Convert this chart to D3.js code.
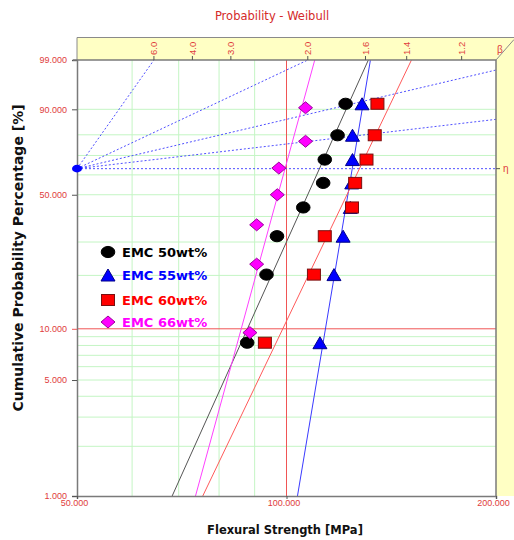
<!DOCTYPE html>
<html>
<head>
<meta charset="utf-8">
<script src="https://cdn.jsdelivr.net/npm/d3@7"></script>
<style>
	body { margin: 0; background: #fff; }
	svg { display: block; }
	text { font-family: 'Liberation Sans', Arial, sans-serif; }
</style>
</head>
<body>
<script>
// data
var categories = ['EMC 50wt%', 'EMC 55wt%', 'EMC 60wt%', 'EMC 66wt%'];
var prob8 = [8.3, 20.2, 32.1, 44.0, 55.9, 67.9, 79.8, 91.7];
var prob7 = [9.5, 23.0, 36.5, 50.0, 63.5, 77.0, 90.5];
var emc50 = [87.8, 93.6, 96.9, 105.7, 112.9, 113.5, 118.4, 121.6];
var emc55 = [111.7, 117.0, 120.6, 123.5, 124.1, 124.4, 124.4, 128.4];
var emc60 = [93.1, 109.5, 113.5, 124.2, 125.5, 130.3, 133.9, 135.1];
var emc66 = [88.6, 90.6, 90.6, 97.0, 97.5, 106.5, 106.5];
// fitted lines: strength at 1% and at 99%
var fitLow = [68.5, 103.7, 75.8, 74.0];
var fitHigh = [131.1, 132.0, 151.2, 109.8];
var probTicks = [1, 5, 10, 50, 90, 99];
var probGrid = [2, 3, 4, 5, 6, 7, 8, 9, 20, 30, 40, 50, 60, 70, 80, 90];
var strengthTicks = [50, 100, 200];
var strengthGrid = [60, 70, 80, 90];
var betaTicks = [6.0, 4.0, 3.0, 2.0, 1.6, 1.4, 1.2];
var betaGuides = [6, 2, 1, 0.5, 0];

var series = [
	{ name: categories[0], x: emc50, p: prob8, shape: 'circle', fill: '#000000', stroke: '#000000', line: '#555555', text: '#000000' },
	{ name: categories[1], x: emc55, p: prob8, shape: 'triangle', fill: '#0000ff', stroke: '#00008a', line: '#3a3aff', text: '#0000ff' },
	{ name: categories[2], x: emc60, p: prob8, shape: 'square', fill: '#ff0000', stroke: '#7a1010', line: '#ff5a5a', text: '#ff0000' },
	{ name: categories[3], x: emc66, p: prob7, shape: 'diamond', fill: '#ff00ff', stroke: '#9a009a', line: '#ff40ff', text: '#ff00ff' }
];

// chart
var margin = { top: 60, right: 18, bottom: 44, left: 77 };
var width = 514 - margin.left - margin.right;
var height = 540 - margin.top - margin.bottom;

var svg = d3.select('body')
	.append('svg')
	.attr('width', 514)
	.attr('height', 540);

var g = svg.append('g')
	.attr('transform', 'translate(' + margin.left + ',' + margin.top + ')');

var weib = function (p) { return Math.log(-Math.log(1 - p / 100)); };

var x = d3.scaleLog().domain([50, 200]).range([0, width]);
var yw = d3.scaleLinear().domain([weib(1), weib(99)]).range([height, 0]);
var y = function (p) { return yw(weib(p)); };

svg.append('defs')
	.append('clipPath')
	.attr('id', 'clip')
	.append('rect')
	.attr('width', width)
	.attr('height', height);

// yellow bands (beta on top, eta on the right)
var band = 22.5;
g.append('rect')
	.attr('x', 0).attr('y', -band)
	.attr('width', width + margin.right + 2).attr('height', band)
	.attr('fill', '#ffffc4');
g.append('rect')
	.attr('x', width).attr('y', -band)
	.attr('width', margin.right + 2).attr('height', height + band)
	.attr('fill', '#ffffc4');
g.append('path')
	.attr('d', 'M0,0 V' + (-band) + ' H' + (width + margin.right + 2))
	.attr('fill', 'none')
	.attr('stroke', '#8a8a8a');
g.append('line')
	.attr('x1', width).attr('y1', 0)
	.attr('x2', width + margin.right).attr('y2', -band + 2)
	.attr('stroke', '#8a8a8a');

// grid
g.selectAll('.hgrid')
	.data(probGrid)
	.enter()
	.append('line')
	.attr('class', 'hgrid')
	.attr('x1', 0).attr('x2', width)
	.attr('y1', function (d) { return y(d); })
	.attr('y2', function (d) { return y(d); })
	.attr('stroke', '#c4f5c4');
g.selectAll('.vgrid')
	.data(strengthGrid)
	.enter()
	.append('line')
	.attr('class', 'vgrid')
	.attr('y1', 0).attr('y2', height)
	.attr('x1', function (d) { return x(d); })
	.attr('x2', function (d) { return x(d); })
	.attr('stroke', '#c4f5c4');

g.append('line')
	.attr('x1', 0).attr('x2', width)
	.attr('y1', y(10)).attr('y2', y(10))
	.attr('stroke', '#f05555');
g.append('line')
	.attr('y1', 0).attr('y2', height)
	.attr('x1', x(100)).attr('x2', x(100))
	.attr('stroke', '#f05555');

// beta guide lines from the pivot (eta = 50 at the left edge)
var wTop = weib(99);
g.selectAll('.guide')
	.data(betaGuides)
	.enter()
	.append('line')
	.attr('class', 'guide')
	.attr('x1', 0)
	.attr('y1', yw(0))
	.attr('x2', function (b) { return x(b > 0 ? Math.min(200, 50 * Math.exp(wTop / b)) : 200); })
	.attr('y2', function (b) {
		var xe = b > 0 ? Math.min(200, 50 * Math.exp(wTop / b)) : 200;
		return yw(b * Math.log(xe / 50));
	})
	.attr('stroke', '#5050ff')
	.attr('stroke-width', 1)
	.attr('stroke-dasharray', '2,2');

// fitted lines
g.selectAll('.fit')
	.data(series)
	.enter()
	.append('line')
	.attr('class', 'fit')
	.attr('clip-path', 'url(#clip)')
	.attr('x1', function (d, i) { return x(fitLow[i]); })
	.attr('y1', y(1))
	.attr('x2', function (d, i) { return x(fitHigh[i]); })
	.attr('y2', y(99))
	.attr('stroke', function (d) { return d.line; })
	.attr('stroke-width', 1);

// axes
var red = '#e03c3c';
var yAxis = d3.axisLeft(yw)
	.tickValues(probTicks.map(weib))
	.tickFormat(function (d, i) { return d3.format('.3f')(probTicks[i]); })
	.tickSize(5)
	.tickPadding(5);
var yg = g.append('g').call(yAxis);
yg.select('.domain').attr('stroke', '#7a7a7a').attr('stroke-width', 1.5);
yg.selectAll('.tick line').attr('stroke', function (d, i) { return probTicks[i] == 10 ? '#f05555' : '#555'; });
yg.selectAll('.tick text').attr('fill', red).style('font-size', '9px');

var xAxis = d3.axisBottom(x)
	.tickValues(strengthTicks)
	.tickFormat(d3.format('.3f'))
	.tickSize(3)
	.tickPadding(1);
var xg = g.append('g')
	.attr('transform', 'translate(0,' + height + ')')
	.call(xAxis);
xg.select('.domain').attr('stroke', '#7a7a7a').attr('stroke-width', 1.5);
xg.selectAll('.tick line').attr('stroke', '#555');
xg.selectAll('.tick text').attr('fill', red).style('font-size', '9px').attr('dx', '-3');

// top (beta) axis
g.append('line')
	.attr('x1', -4).attr('x2', width)
	.attr('y1', 0).attr('y2', 0)
	.attr('stroke', '#7a7a7a').attr('stroke-width', 1.5);
var bx = function (b) { return x(50 * Math.exp(wTop / b)); };
g.selectAll('.btick')
	.data(betaTicks)
	.enter()
	.append('line')
	.attr('class', 'btick')
	.attr('x1', bx).attr('x2', bx)
	.attr('y1', 0).attr('y2', -4)
	.attr('stroke', '#555');
g.selectAll('.blabel')
	.data(betaTicks)
	.enter()
	.append('text')
	.attr('class', 'blabel')
	.attr('transform', function (b) { return 'translate(' + bx(b) + ',-5) rotate(-90)'; })
	.attr('dy', '0.35em')
	.attr('fill', red)
	.style('font-size', '9.5px')
	.text(function (b) { return d3.format('.1f')(b); });
g.append('text')
	.attr('x', width + 1).attr('y', -7)
	.attr('fill', red)
	.style('font-size', '10px')
	.text('β');

// right (eta) axis
g.append('line')
	.attr('x1', width).attr('x2', width)
	.attr('y1', 0).attr('y2', height)
	.attr('stroke', '#7a7a7a').attr('stroke-width', 1.5);
g.append('line')
	.attr('x1', width).attr('x2', width + 4)
	.attr('y1', yw(0)).attr('y2', yw(0))
	.attr('stroke', '#555');
g.append('text')
	.attr('x', width + 7).attr('y', yw(0))
	.attr('dy', '0.35em')
	.attr('fill', red)
	.style('font-size', '10px')
	.text('η');

// pivot point
g.append('ellipse')
	.attr('cx', 0).attr('cy', yw(0))
	.attr('rx', 5).attr('ry', 3.8)
	.attr('fill', '#0000ff');

// markers
function marker (sel, shape, fill, stroke) {
	if (shape == 'circle') {
		sel.append('ellipse').attr('rx', 6.8).attr('ry', 5.6);
	} else if (shape == 'triangle') {
		sel.append('path').attr('d', 'M0,-6 L7,6 L-7,6 Z');
	} else if (shape == 'square') {
		sel.append('rect').attr('x', -6.5).attr('y', -5.5).attr('width', 13).attr('height', 11);
	} else {
		sel.append('path').attr('d', 'M0,-6 L7,0 L0,6 L-7,0 Z');
	}
	sel.selectAll('*')
		.attr('fill', fill)
		.attr('stroke', stroke)
		.attr('stroke-width', 1);
}

series.forEach(function (s) {
	var pts = g.append('g')
		.selectAll('g')
		.data(s.x)
		.enter()
		.append('g')
		.attr('transform', function (d, i) { return 'translate(' + x(d) + ',' + y(s.p[i]) + ')'; });
	pts.each(function () { marker(d3.select(this), s.shape, s.fill, s.stroke); });
});

// legend
var legendY = [252, 275, 300, 322];
var legend = svg.append('g')
	.selectAll('g')
	.data(series)
	.enter()
	.append('g')
	.attr('transform', function (d, i) { return 'translate(108,' + legendY[i] + ')'; });
legend.each(function (d) { marker(d3.select(this), d.shape, d.fill, d.stroke); });
legend.append('text')
	.attr('x', 14)
	.attr('dy', '0.36em')
	.attr('fill', function (d) { return d.text; })
	.style('font-family', "'DejaVu Sans', sans-serif")
	.style('font-weight', 'bold')
	.style('font-size', '13px')
	.text(function (d) { return d.name; });

// titles
svg.append('text')
	.attr('x', 272).attr('y', 20)
	.attr('text-anchor', 'middle')
	.attr('fill', '#d42a2a')
	.style('font-family', "'DejaVu Sans', sans-serif")
	.style('font-size', '11.5px')
	.text('Probability - Weibull');
svg.append('text')
	.attr('x', 285).attr('y', 534)
	.attr('text-anchor', 'middle')
	.attr('fill', '#111')
	.style('font-family', "'DejaVu Sans', sans-serif")
	.style('font-weight', 'bold')
	.style('font-size', '11.5px')
	.text('Flexural Strength [MPa]');
svg.append('text')
	.attr('transform', 'translate(18,258) rotate(-90)')
	.attr('dy', '0.35em')
	.attr('text-anchor', 'middle')
	.attr('fill', '#111')
	.style('font-family', "'DejaVu Sans', sans-serif")
	.style('font-weight', 'bold')
	.style('font-size', '14px')
	.text('Cumulative Probability Percentage [%]');
</script>
</body>
</html>
